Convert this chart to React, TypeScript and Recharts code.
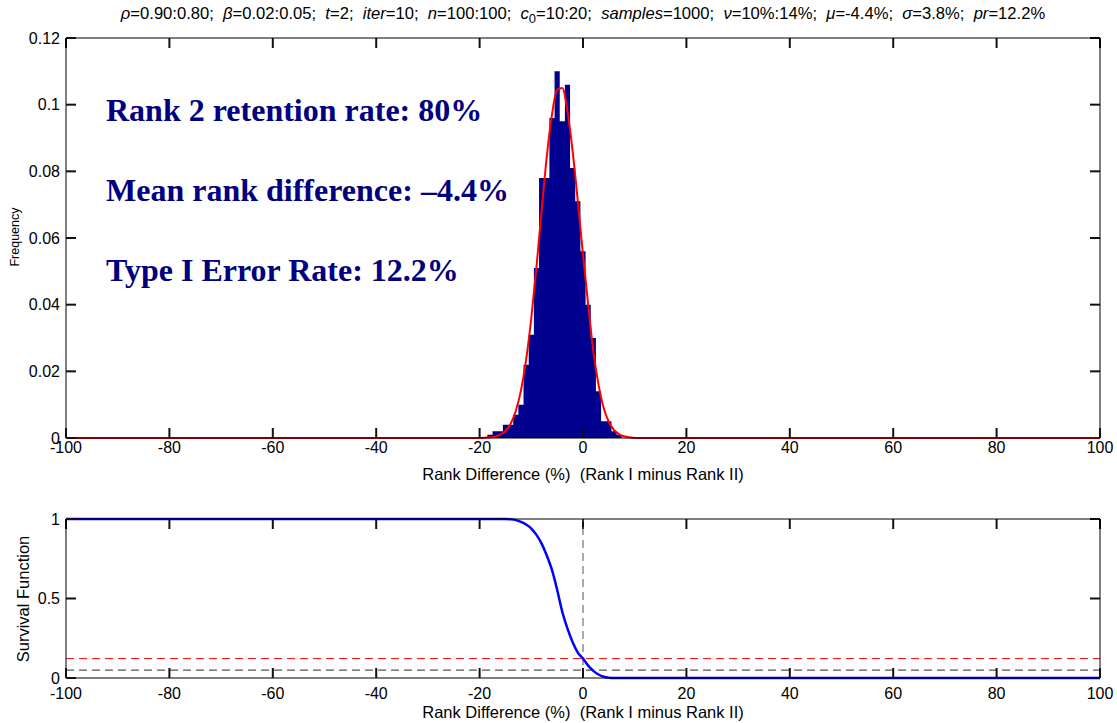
import React from "react";
import {
  ComposedChart,
  Area,
  Line,
  XAxis,
  YAxis,
  ReferenceLine,
} from "recharts";

// Histogram bins (bin centres, % rank difference) and relative frequencies
const rankX = [
  -20, -19, -18, -17, -16, -15, -14, -13, -12, -11, -10, -9, -8, -7, -6, -5,
  -4, -3, -2, -1, 0, 1, 2, 3, 4, 5, 6, 7, 8, 9, 10,
];
const histFreq = [
  0, 0, 0.001, 0.002, 0.002, 0.004, 0.004, 0.007, 0.01, 0.022, 0.031, 0.051,
  0.078, 0.078, 0.096, 0.11, 0.095, 0.106, 0.081, 0.071, 0.056, 0.04, 0.03,
  0.014, 0.005, 0.005, 0.002, 0.001, 0, 0, 0,
];
// Fitted normal density at the same centres
const fitFreq = [
  0, 0.0001, 0.0002, 0.0004, 0.001, 0.0021, 0.0043, 0.0081, 0.0143, 0.0235,
  0.036, 0.0513, 0.0683, 0.0845, 0.097, 0.1045, 0.105, 0.098, 0.086, 0.071,
  0.055, 0.04, 0.026, 0.016, 0.009, 0.0048, 0.0024, 0.0011, 0.0005, 0.0002, 0,
];

// Survival function P(diff > x)
const survX = [
  -15, -14, -13, -12, -11, -10, -9, -8, -7, -6, -5, -4, -3, -2, -1, 0, 1, 2, 3,
  4, 5, 6,
];
const survVal = [
  1, 0.998, 0.993, 0.982, 0.965, 0.94, 0.9, 0.845, 0.77, 0.68, 0.555, 0.415,
  0.31, 0.225, 0.16, 0.122, 0.078, 0.045, 0.022, 0.008, 0.002, 0,
];

const xRange: [number, number] = [-100, 100];
const xTicks = [-100, -80, -60, -40, -20, 0, 20, 40, 60, 80, 100];
const freqRange: [number, number] = [0, 0.12];
const freqTicks = [0, 0.02, 0.04, 0.06, 0.08, 0.1, 0.12];
const survRange: [number, number] = [0, 1];
const survTicks = [0, 0.5, 1];
const prLevel = 0.122;
const alphaLevel = 0.05;
const zeroDiff = 0;

const annotations = [
  "Rank 2 retention rate: 80%",
  "Mean rank difference: \u20134.4%",
  "Type I Error Rate: 12.2%",
];
const xLabel = "Rank Difference (%)  (Rank I minus Rank II)";

const histTable = [xRange[0], ...rankX, xRange[1]].map((x) => {
  const i = rankX.indexOf(x);
  return { x, freq: i >= 0 ? histFreq[i] : 0, fit: i >= 0 ? fitFreq[i] : 0 };
});
const survTable = [
  { x: xRange[0], s: 1 },
  ...survX.map((x, i) => ({ x, s: survVal[i] })),
  { x: xRange[1], s: 0 },
];

const SANS = "'Liberation Sans', Arial, sans-serif";
const CHART_W = 1117;
const LEFT_W = 66;
const RIGHT_W = 17;
const PLOT_W = CHART_W - LEFT_W - RIGHT_W;
const TICK_PX = 10;
const TICK_W = 2;
const TICK_FONT = 16;
const axisLine = { stroke: "#000", strokeWidth: 1 };

// Bottom tick: inward mark plus centred label below the axis
const BottomTick = (p: any) => {
  const x = Number(p.x);
  const y = Number(p.y);
  return (
    <g>
      <rect
        x={x - TICK_W / 2}
        y={y - TICK_PX}
        width={TICK_W}
        height={TICK_PX}
        fill="#111"
      />
      <text
        x={x}
        y={y + p.gap}
        textAnchor="middle"
        fontSize={TICK_FONT}
        fontFamily={SANS}
        fill="#000"
      >
        {p.payload.value}
      </text>
    </g>
  );
};
// Left tick: inward mark plus right-aligned label
const LeftTick = (p: any) => {
  const x = Number(p.x);
  const y = Number(p.y);
  return (
    <g>
      <rect
        x={x}
        y={y - TICK_W / 2}
        width={TICK_PX}
        height={TICK_W}
        fill="#111"
      />
      <text
        x={x - 6}
        y={y + 5.5}
        textAnchor="end"
        fontSize={TICK_FONT}
        fontFamily={SANS}
        fill="#000"
      >
        {p.payload.value}
      </text>
    </g>
  );
};

// Inward marks along the top and right sides of the box
function FarSideTicks(
  yTicks: number[],
  yDomain: [number, number],
  plotH: number,
) {
  const dx = ((xRange[1] - xRange[0]) * TICK_PX) / PLOT_W;
  const dy = ((yDomain[1] - yDomain[0]) * TICK_PX) / plotH;
  const segs: { x: number; y: number }[][] = [];
  xTicks.forEach((t) =>
    segs.push([
      { x: t, y: yDomain[1] },
      { x: t, y: yDomain[1] - dy },
    ]),
  );
  yTicks.forEach((v) =>
    segs.push([
      { x: xRange[1], y: v },
      { x: xRange[1] - dx, y: v },
    ]),
  );
  return segs.map((s, i) => (
    <ReferenceLine
      key={"far" + i}
      xAxisId="b"
      yAxisId="l"
      segment={s}
      stroke="#111"
      strokeWidth={TICK_W}
      ifOverflow="visible"
    />
  ));
}

// Axes framing the plot box (labels on bottom/left, plain lines top/right)
function BoxAxes(
  yTicks: number[],
  yDomain: [number, number],
  bottomHeight: number,
  labelGap: number,
) {
  return [
    <XAxis
      key="b"
      xAxisId="b"
      dataKey="x"
      type="number"
      domain={xRange}
      ticks={xTicks}
      interval={0}
      height={bottomHeight}
      axisLine={axisLine}
      tickLine={false}
      tickSize={0}
      tickMargin={0}
      tick={(p: any) => <BottomTick {...p} gap={labelGap} />}
    />,
    <XAxis
      key="t"
      xAxisId="t"
      orientation="top"
      type="number"
      domain={xRange}
      allowDataOverflow
      height={30}
      axisLine={axisLine}
      tickLine={false}
      tick={false}
    />,
    <YAxis
      key="l"
      yAxisId="l"
      type="number"
      domain={yDomain}
      ticks={yTicks}
      interval={0}
      width={LEFT_W}
      axisLine={axisLine}
      tickLine={false}
      tickSize={0}
      tickMargin={0}
      tick={(p: any) => <LeftTick {...p} />}
    />,
    <YAxis
      key="r"
      yAxisId="r"
      orientation="right"
      type="number"
      domain={yDomain}
      allowDataOverflow
      width={10}
      axisLine={axisLine}
      tickLine={false}
      tick={false}
    />,
  ];
}

const abs = (s: React.CSSProperties): React.CSSProperties => ({
  position: "absolute",
  ...s,
});

export default function App() {
  const it = { fontStyle: "italic" } as React.CSSProperties;
  return (
    <div
      style={abs({
        left: 0,
        top: 0,
        width: CHART_W,
        height: 723,
        background: "#fff",
        fontFamily: SANS,
      })}
    >
      <div style={abs({ left: 0, top: 0 })}>
        <ComposedChart
          width={CHART_W}
          height={490}
          data={histTable}
          margin={{ top: 8, right: 7, bottom: 0, left: 0 }}
        >
          {BoxAxes(freqTicks, freqRange, 52, 15)}
          {FarSideTicks(freqTicks, freqRange, 400)}
          <Area
            xAxisId="b"
            yAxisId="l"
            type="step"
            dataKey="freq"
            stroke="none"
            fill="#00008F"
            fillOpacity={1}
            baseValue={0}
            dot={false}
            activeDot={false}
            isAnimationActive={false}
          />
          <Line
            xAxisId="b"
            yAxisId="l"
            type="monotone"
            dataKey="fit"
            stroke="#FF0000"
            strokeWidth={2}
            dot={false}
            activeDot={false}
            isAnimationActive={false}
          />
        </ComposedChart>
      </div>

      <div style={abs({ left: 0, top: 490 })}>
        <ComposedChart
          width={CHART_W}
          height={233}
          data={survTable}
          margin={{ top: -1, right: 7, bottom: 0, left: 0 }}
        >
          {BoxAxes(survTicks, survRange, 45, 21)}
          {FarSideTicks(survTicks, survRange, 159)}
          <ReferenceLine
            xAxisId="b"
            yAxisId="l"
            y={prLevel}
            stroke="#FF0000"
            strokeWidth={1}
            strokeDasharray="8 5"
          />
          <ReferenceLine
            xAxisId="b"
            yAxisId="l"
            y={alphaLevel}
            stroke="#555"
            strokeWidth={1.3}
            strokeDasharray="8 5"
          />
          <ReferenceLine
            xAxisId="b"
            yAxisId="l"
            x={zeroDiff}
            stroke="#555"
            strokeWidth={1}
            strokeDasharray="8 5"
          />
          <Line
            xAxisId="b"
            yAxisId="l"
            type="monotone"
            dataKey="s"
            stroke="#0000FF"
            strokeWidth={2.5}
            dot={false}
            activeDot={false}
            isAnimationActive={false}
          />
        </ComposedChart>
      </div>

      {/* parameter summary line */}
      <div
        style={abs({
          left: 0,
          width: 1166,
          top: 5,
          textAlign: "center",
          fontSize: 16.6,
          whiteSpace: "pre",
          lineHeight: "18px",
        })}
      >
        <span style={it}>ρ</span>=0.90:0.80;{"  "}
        <span style={it}>β</span>=0.02:0.05;{"  "}
        <span style={it}>t</span>=2;{"  "}
        <span style={it}>iter</span>=10;{"  "}
        <span style={it}>n</span>=100:100;{"  "}
        <span style={it}>c</span>
        <sub style={{ fontSize: 13, lineHeight: 0 }}>0</sub>=10:20;{"  "}
        <span style={it}>samples</span>=1000;{"  "}
        <span style={it}>ν</span>=10%:14%;{"  "}
        <span style={it}>μ</span>=-4.4%;{"  "}
        <span style={it}>σ</span>=3.8%;{"  "}
        <span style={it}>pr</span>=12.2%
      </div>

      {annotations.map((t, i) => (
        <div
          key={t}
          style={abs({
            left: 106,
            top: 92 + i * 80,
            fontFamily: "'Liberation Serif', 'Times New Roman', serif",
            fontWeight: "bold",
            fontSize: 32,
            color: "#000080",
            whiteSpace: "pre",
            lineHeight: "36px",
          })}
        >
          {t}
        </div>
      ))}

      <div
        style={abs({
          left: 0,
          width: 1166,
          top: 464,
          textAlign: "center",
          fontSize: 16.5,
          whiteSpace: "pre",
          lineHeight: "20px",
        })}
      >
        {xLabel}
      </div>
      <div
        style={abs({
          left: 0,
          width: 1166,
          top: 702,
          textAlign: "center",
          fontSize: 16.5,
          whiteSpace: "pre",
          lineHeight: "20px",
        })}
      >
        {xLabel}
      </div>

      <div
        style={abs({
          left: 15,
          top: 237,
          transform: "translate(-50%, -50%) rotate(-90deg)",
          fontSize: 12.5,
          whiteSpace: "pre",
        })}
      >
        Frequency
      </div>
      <div
        style={abs({
          left: 23,
          top: 599,
          transform: "translate(-50%, -50%) rotate(-90deg)",
          fontSize: 16.5,
          whiteSpace: "pre",
        })}
      >
        Survival Function
      </div>
    </div>
  );
}
